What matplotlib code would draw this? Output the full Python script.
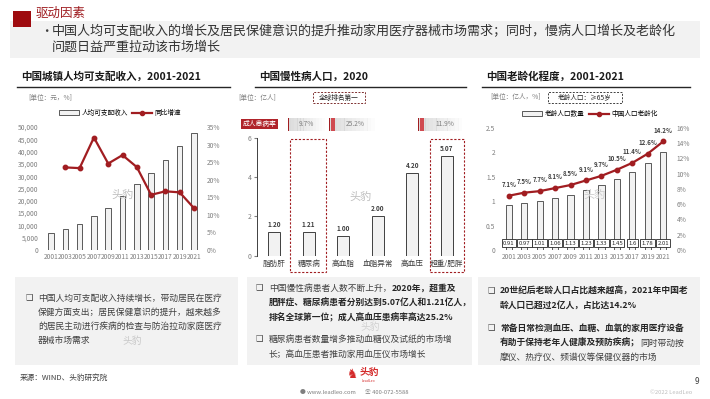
import matplotlib
matplotlib.use("Agg")
import matplotlib.pyplot as plt
from matplotlib.patches import Rectangle, Patch
from matplotlib.lines import Line2D

plt.rcParams['font.family'] = ['Noto Sans CJK SC', 'DejaVu Sans']

# ---- data ----
years = ['2001', '2003', '2005', '2007', '2009', '2011', '2013', '2015', '2017', '2019', '2021']
income = [6860, 8472, 10493, 13786, 17175, 21810, 26955, 31195, 36396, 42359, 47412]
income_growth = [23.5, 23.3, 32.0, 24.6, 27.0, 23.6, 15.7, 16.7, 16.4, 11.9]  # from 2003

disease_names = ['脂肪肝', '糖尿病', '高血脂', '血脂异常', '高血压', '超重/肥胖']
disease_pop = [1.20, 1.21, 1.00, 2.00, 4.20, 5.07]
prevalence_labels = ['9.7%', '25.2%', '11.9%']

elderly_pop = [0.91, 0.97, 1.01, 1.06, 1.13, 1.23, 1.33, 1.45, 1.6, 1.78, 2.01]
elderly_pct = [7.1, 7.5, 7.7, 8.1, 8.5, 9.1, 9.7, 10.5, 11.4, 12.6, 14.2]

RED = '#a11d21'
DARK = '#404040'
GREY = '#7f7f7f'
BARC = '#f2f2f2'

W, H = 710, 399
fig = plt.figure(figsize=(W / 100, H / 100), dpi=100)


def fx(x):
    return x / W


def fy(y):
    return 1 - y / H


def add_ax(x0, y0, x1, y1):
    return fig.add_axes([fx(x0), fy(y1), (x1 - x0) / W, (y1 - y0) / H])


def ftext(x, y, s, **kw):
    return fig.text(fx(x), fy(y), s, **kw)


def frect(x0, y0, x1, y1, **kw):
    r = Rectangle((fx(x0), fy(y1)), (x1 - x0) / W, (y1 - y0) / H,
                  transform=fig.transFigure, **kw)
    fig.add_artist(r)
    return r


def fline(x0, x1, y, **kw):
    fig.add_artist(Line2D([fx(x0), fx(x1)], [fy(y), fy(y)], transform=fig.transFigure, **kw))


renderer = fig.canvas.get_renderer()


def rich_line(x, y, parts, size=6.3):
    for s, bold in parts:
        t = ftext(x, y, s, fontsize=size, color='#262626' if bold else DARK,
                  fontweight='bold' if bold else 'normal', va='center', ha='left')
        x = t.get_window_extent(renderer=renderer).x1


def style_ticks(ax):
    ax.tick_params(labelsize=4.8, colors=GREY, length=0, pad=2)
    for s in ax.spines.values():
        s.set_visible(False)


# ---- header ----
frect(10, 21, 700, 58, facecolor='#f2f2f2', edgecolor='none')
frect(13, 11, 31, 27, facecolor='#9e0b0f', edgecolor='none')
ftext(36, 13, '驱动因素', fontsize=9, color='#9e1b1f', va='center')
ftext(40, 32, '•', fontsize=9, color=DARK, va='center')
ftext(52, 32, '中国人均可支配收入的增长及居民保健意识的提升推动家用医疗器械市场需求；同时，慢病人口增长及老龄化',
      fontsize=9.4, color='#333333', va='center', fontweight='medium')
ftext(52, 47, '问题日益严重拉动该市场增长', fontsize=9.4, color='#333333', va='center', fontweight='medium')

# ---- chart titles ----
for x0, x1, title in [(17, 230, '中国城镇人均可支配收入，2001-2021'),
                      (255, 466, '中国慢性病人口，2020'),
                      (482, 690, '中国老龄化程度，2001-2021')]:
    ftext(x0 + 4, 77, title, fontsize=7.6, fontweight='bold', color='#1a1a1a', va='center')
    fline(x0, x1, 87, color='#262626', lw=1)

# ---- chart 1: income ----
ftext(28, 98, '[单位：元，%]', fontsize=4.8, color=GREY, va='center')
ax1 = add_ax(41, 127, 204, 250)
xs = list(range(len(years)))
ax1.bar(xs, income, width=0.38, color=BARC, edgecolor=DARK, lw=0.6)
ax1.set_ylim(0, 50000)
ax1.set_yticks(range(0, 50001, 5000))
ax1.set_yticklabels([f'{v:,}' for v in range(0, 50001, 5000)])
ax1.set_xlim(-0.7, 10.7)
ax1.set_xticks(xs)
ax1.set_xticklabels(years)
style_ticks(ax1)
ax1b = ax1.twinx()
ax1b.plot(xs[1:], income_growth, color=RED, lw=1.6, marker='o', ms=3.2)
ax1b.set_ylim(0, 35)
ax1b.set_yticks(range(0, 36, 5))
ax1b.set_yticklabels([f'{v}%' for v in range(0, 36, 5)])
style_ticks(ax1b)
ax1.text(0.5, 0.45, '头豹', transform=ax1.transAxes, fontsize=8, color='#bfbfbf', ha='center', va='center')
h1 = [Patch(facecolor=BARC, edgecolor=DARK, lw=0.6),
      Line2D([], [], color=RED, lw=1.6, marker='o', ms=3)]
ax1.legend(h1, ['人均可支配收入', '同比增速'], loc='center', bbox_to_anchor=(fx(120), fy(113)),
           bbox_transform=fig.transFigure, ncol=2, frameon=False, fontsize=4.8,
           handlelength=3, handleheight=0.8, columnspacing=0.6, handletextpad=0.4)

# ---- chart 2: chronic disease ----
ftext(238, 98, '[单位：亿人]', fontsize=4.8, color=GREY, va='center')
frect(313, 92, 365, 103, fill=False, edgecolor='#7f3030', ls=(0, (2, 1.5)), lw=0.7)
ftext(339, 97.5, '全球排名第一', fontsize=4.8, color='#262626', ha='center', va='center')

ax2 = add_ax(257, 137.7, 464, 255.7)
dx = list(range(len(disease_names)))
ax2.bar(dx, disease_pop, width=0.36, color=BARC, edgecolor=DARK, lw=0.7)
for i, v in enumerate(disease_pop):
    ax2.text(i, v + 0.2, f'{v:.2f}', ha='center', va='bottom', fontsize=4.6,
             fontweight='bold', color=DARK)
ax2.set_xlim(-0.5, 5.5)
ax2.set_ylim(0, 6)
ax2.set_yticks([0, 2, 4, 6])
ax2.set_xticks(dx)
ax2.set_xticklabels(disease_names)
ax2.tick_params(axis='y', labelsize=5, colors=GREY, length=2, pad=2)
ax2.tick_params(axis='x', labelsize=5.5, colors=DARK, length=0, pad=3)
for s in ['top', 'right', 'bottom']:
    ax2.spines[s].set_visible(False)
ax2.spines['left'].set_color(DARK)
ax2.spines['left'].set_linewidth(0.7)
ax2.text(0.5, 0.5, '头豹', transform=ax2.transAxes, fontsize=8, color='#bfbfbf', ha='center', va='center')

for x0, x1 in [(290, 326), (430, 464)]:
    frect(x0, 139, x1, 272, fill=False, edgecolor=RED, ls=(0, (2, 1.5)), lw=0.8)

# prevalence strip
frect(241, 119, 278, 129, facecolor='#b0232a', edgecolor='none')
ftext(259.5, 124, '成人患病率', fontsize=4.9, color='white', ha='center', va='center')
for (x0, x1, nred), lab in zip([(288, 325, 1), (329, 375, 3), (418, 462, 3)], prevalence_labels):
    steps = 12
    seg = (x1 - x0) / steps
    for k in range(steps):
        frect(x0 + k * seg, 118, x0 + (k + 1) * seg + 0.3, 131, facecolor='#d0d0d0',
              edgecolor='none', alpha=0.75 * (1 - k / steps))
    for k in range(nred):
        frect(x0 + k * 2.2, 118, x0 + k * 2.2 + 1.4, 131, facecolor=RED if k == 0 else '#d04a50',
              edgecolor='none')
    ftext(x0 + 3 * nred + 8, 124.5, lab, fontsize=4.8, color=GREY, ha='left', va='center')

# ---- chart 3: aging ----
ftext(490, 97, '[单位：亿人，%]', fontsize=4.8, color=GREY, va='center')
frect(548, 92, 622, 103, fill=False, edgecolor='#404040', ls=(0, (2, 1.5)), lw=0.7)
ftext(585, 97.5, '老龄人口：≥65岁', fontsize=4.8, color='#262626', ha='center', va='center')

ax3 = add_ax(498, 127.7, 674, 250)
ax3.bar(xs, elderly_pop, width=0.4, color=BARC, edgecolor=DARK, lw=0.6)
ax3.set_ylim(0, 2.5)
ax3.set_yticks([0, 0.5, 1, 1.5, 2, 2.5])
ax3.set_yticklabels(['0', '0.5', '1', '1.5', '2', '2.5'])
ax3.set_xlim(-0.7, 10.7)
ax3.set_xticks(xs)
ax3.set_xticklabels(years)
style_ticks(ax3)
for i, v in enumerate(elderly_pop):
    ax3.text(i, 0.14, f'{v:g}', ha='center', va='center', fontsize=4.3, color='#262626',
             bbox=dict(boxstyle='square,pad=0.25', facecolor='white', edgecolor='#262626', lw=0.6))
ax3b = ax3.twinx()
ax3b.plot(xs, elderly_pct, color=RED, lw=1.6, marker='o', ms=3.2)
for i, v in enumerate(elderly_pct):
    ax3b.text(i, v + 1.0, f'{v}%', ha='center', va='bottom', fontsize=4.4,
              fontweight='bold', color=DARK)
ax3b.set_ylim(0, 16)
ax3b.set_yticks(range(0, 17, 2))
ax3b.set_yticklabels([f'{v}%' for v in range(0, 17, 2)])
style_ticks(ax3b)
ax3.text(0.55, 0.45, '头豹', transform=ax3.transAxes, fontsize=8, color='#cccccc', ha='center', va='center')
h3 = [Patch(facecolor=BARC, edgecolor=DARK, lw=0.6),
      Line2D([], [], color=RED, lw=1.6, marker='o', ms=3)]
ax3.legend(h3, ['老龄人口数量', '中国人口老龄化'], loc='center', bbox_to_anchor=(fx(590), fy(114)),
           bbox_transform=fig.transFigure, ncol=2, frameon=False, fontsize=4.8,
           handlelength=3, handleheight=0.8, columnspacing=0.6, handletextpad=0.4)

# ---- bottom text boxes ----
for x0, x1 in [(15, 238), (247, 472), (478, 700)]:
    frect(x0, 277, x1, 365, facecolor='#f2f2f2', edgecolor='none')

BUL = '❑'
ftext(26, 298, BUL, fontsize=6, color=DARK, va='center')
for y, s in [(298, '中国人均可支配收入持续增长，带动居民在医疗'),
             (312, '保健方面支出；居民保健意识的提升，越来越多'),
             (326, '的居民主动进行疾病的检查与防治拉动家庭医疗'),
             (340, '器械市场需求')]:
    rich_line(38, y, [(s, False)])
ftext(122, 341, '头豹', fontsize=7, color='#c8c8c8', va='center')

ftext(256, 288, BUL, fontsize=6, color=DARK, va='center')
ftext(256, 339, BUL, fontsize=6, color=DARK, va='center')
rich_line(269, 288, [('中国慢性病患者人数不断上升，', False), ('2020年，超重及', True)])
rich_line(269, 303, [('肥胖症、糖尿病患者分别达到5.07亿人和1.21亿人，', True)])
rich_line(269, 318, [('排名全球第一位；成人高血压患病率高达25.2%', True)])
rich_line(269, 339, [('糖尿病患者数量增多推动血糖仪及试纸的市场增', False)])
rich_line(269, 354, [('长；高血压患者推动家用血压仪市场增长', False)])
ftext(360, 327, '头豹', fontsize=7, color='#d0d0d0', va='center')

ftext(487, 291, BUL, fontsize=6, color=DARK, va='center')
ftext(487, 328, BUL, fontsize=6, color=DARK, va='center')
rich_line(500, 291, [('20世纪后老龄人口占比越来越高，2021年中国老', True)])
rich_line(500, 306, [('龄人口已超过2亿人，占比达14.2%', True)])
rich_line(500, 328, [('常备日常检测血压、血糖、血氧的家用医疗设备', True)])
rich_line(500, 343, [('有助于保持老年人健康及预防疾病；', True), ('同时带动按', False)])
rich_line(500, 357, [('摩仪、热疗仪、频谱仪等保健仪器的市场', False)])

# ---- footer ----
ftext(20, 378, '来源：WIND、头豹研究院', fontsize=5.5, color=DARK, va='center')
ftext(352, 374, '♞', fontsize=9, color='#d42a2a', ha='center', va='center')
ftext(360, 372, '头豹', fontsize=7, color='#d42a2a', fontweight='bold', va='center')
ftext(368, 381, 'LeadLeo', fontsize=2.5, color='#d42a2a', ha='center', va='center')
ftext(300, 392, '● www.leadleo.com', fontsize=4.2, color=GREY, va='center')
ftext(365, 392, '☏ 400-072-5588', fontsize=4.2, color=GREY, va='center')
ftext(697, 382, '9', fontsize=6, color=DARK, ha='center', va='center')
ftext(692, 392, '©2022 LeadLeo', fontsize=4.2, color='#bfbfbf', ha='right', va='center')

fig.savefig('out.png', dpi=100)
